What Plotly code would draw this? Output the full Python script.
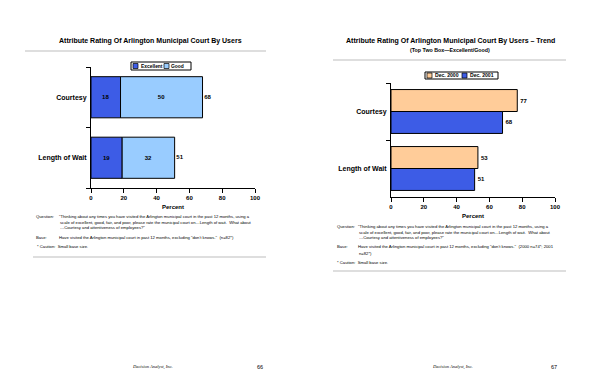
import plotly.graph_objects as go

W, H = 600, 388


def px(x):
    return x / W


def py(y):
    return 1 - y / H


# ---------------- data ----------------
attributes = ["Length of Wait", "Courtesy"]          # bottom-up order
excellent = [19, 18]
good = [32, 50]
top_two = [51, 68]

trend_attributes = ["Length of Wait", "Courtesy"]
dec_2000 = [53, 77]
dec_2001 = [51, 68]

x_ticks = [0, 20, 40, 60, 80, 100]

series_left = ["Excellent", "Good"]
series_right = ["Dec. 2000", "Dec. 2001"]

# ---------------- styles ----------------
FONT = "Liberation Sans, Arial, sans-serif"
SERIF = "Liberation Serif, Times New Roman, serif"
C_EXC = "#3d5ce6"
C_GOOD = "#99ccff"
C_2000 = "#ffcc99"
C_2001 = "#3d5ce6"
BAR_LINE = dict(color="black", width=1)
LBL = dict(family=FONT, size=6, color="black", weight="bold")

fig = go.Figure()

# Left chart: stacked bars
fig.add_trace(go.Bar(
    name=series_left[0], y=attributes, x=excellent, orientation="h",
    width=0.68, marker=dict(color=C_EXC, line=BAR_LINE),
    text=excellent, textposition="inside", insidetextanchor="middle",
    insidetextfont=LBL, xaxis="x", yaxis="y"))
fig.add_trace(go.Bar(
    name=series_left[1], y=attributes, x=good, base=excellent, orientation="h",
    width=0.68, marker=dict(color=C_GOOD, line=BAR_LINE),
    text=good, textposition="inside", insidetextanchor="middle",
    insidetextfont=LBL, xaxis="x", yaxis="y"))
fig.add_trace(go.Scatter(
    x=top_two, y=attributes, mode="text", text=[f" {v}" for v in top_two],
    textposition="middle right", textfont=LBL, showlegend=False,
    xaxis="x", yaxis="y", cliponaxis=False))

# Right chart: grouped bars
fig.add_trace(go.Bar(
    name=series_right[0], y=trend_attributes, x=dec_2000, orientation="h",
    width=0.385, offset=0, marker=dict(color=C_2000, line=BAR_LINE),
    text=dec_2000, textposition="outside", outsidetextfont=LBL,
    cliponaxis=False, xaxis="x2", yaxis="y2"))
fig.add_trace(go.Bar(
    name=series_right[1], y=trend_attributes, x=dec_2001, orientation="h",
    width=0.385, offset=-0.385, marker=dict(color=C_2001, line=BAR_LINE),
    text=dec_2001, textposition="outside", outsidetextfont=LBL,
    cliponaxis=False, xaxis="x2", yaxis="y2"))


def xaxis_style(x0, x1, anchor):
    return dict(domain=[px(x0), px(x1)], range=[0, 100], tickvals=x_ticks,
                ticks="outside", ticklen=4, tickcolor="black", showline=True,
                linecolor="black", linewidth=1, showgrid=False, zeroline=False,
                tickfont=dict(family=FONT, size=6, color="black", weight="bold"),
                title=dict(text="Percent", standoff=4,
                           font=dict(family=FONT, size=6, color="black", weight="bold")),
                anchor=anchor, automargin=False, fixedrange=True)


def yaxis_style(y_top, y_bot, anchor):
    return dict(domain=[py(y_bot), py(y_top)], range=[-0.5, 1.5], type="category",
                ticks="outside", tickson="boundaries", ticklen=4, tickcolor="black",
                showline=True, linecolor="black", linewidth=1, showgrid=False,
                zeroline=False, ticklabelstandoff=2,
                tickfont=dict(family=FONT, size=7, color="black", weight="bold"),
                anchor=anchor, automargin=False, fixedrange=True)


annotations = []
shapes = []


def text(x, y, s, size=4.2, bold=False, anchor="left", family=FONT, italic=False):
    annotations.append(dict(
        x=px(x), y=py(y), xref="paper", yref="paper", text=s, showarrow=False,
        xanchor=anchor, yanchor="middle",
        font=dict(family=family, size=size, color="black",
                  weight="bold" if bold else "normal",
                  style="italic" if italic else "normal")))


def hline(x0, x1, y, color="#bdbdbd"):
    shapes.append(dict(type="line", xref="paper", yref="paper",
                       x0=px(x0), x1=px(x1), y0=py(y), y1=py(y),
                       line=dict(color=color, width=1)))


def legend(x0, x1, y0, y1, items, size):
    shapes.append(dict(type="rect", xref="paper", yref="paper",
                       x0=px(x0), x1=px(x1), y0=py(y1), y1=py(y0),
                       line=dict(color="black", width=1), fillcolor="white"))
    ym = (y0 + y1) / 2
    for sx, name, color in items:
        shapes.append(dict(type="rect", xref="paper", yref="paper",
                           x0=px(sx), x1=px(sx + 5), y0=py(ym + 2.5), y1=py(ym - 2.5),
                           line=dict(color="black", width=0.7), fillcolor=color))
        text(sx + 5.5, ym, name, size=size, bold=True)


# Titles
text(150, 41, "Attribute Rating Of Arlington Municipal Court By Users", size=7, bold=True, anchor="center")
hline(25, 266, 51)
text(450, 41, "Attribute Rating Of Arlington Municipal Court By Users \u2013 Trend", size=7, bold=True, anchor="center")
text(450, 50, "(Top Two Box\u2014Excellent/Good)", size=5.3, bold=True, anchor="center")
hline(333, 566, 60)

# Legends
legend(131, 191, 62, 70, [(133, series_left[0], C_EXC), (164, series_left[1], C_GOOD)], 4.9)
legend(425, 498, 72, 79, [(427, series_right[0], C_2000), (462, series_right[1], C_2001)], 5.1)

# Notes left
q1 = "\"Thinking about any times you have visited the Arlington municipal court in the past 12 months, using a"
q2 = "scale of excellent, good, fair, and poor, please rate the municipal court on\u2026Length of wait.  What about"
q3 = "\u2026Courtesy and attentiveness of employees?\""
text(34, 216, "Question:")
text(57, 216, q1)
text(58, 222, q2)
text(58, 227, q3)
text(34, 237, "Base:")
text(57, 237, "Have visited the Arlington municipal court in past 12 months, excluding \"don't knows.\"  (n=82*)")
text(35, 247, "* Caution:  Small base size.")
hline(33, 266, 257)

# Notes right
text(335, 226, "Question:")
text(356, 226, q1)
text(357, 232, q2)
text(357, 237, q3)
text(335, 247, "Base:")
text(356, 247, "Have visited the Arlington municipal court in past 12 months, excluding \"don't knows.\"  (2000 n=74*; 2001")
text(357, 253, "n=82*)")
text(335, 262, "* Caution:  Small base size.")
hline(333, 566, 271)

# Footers
text(152, 367, "Decision Analyst, Inc.", size=4.5, anchor="center", family=SERIF, italic=True)
text(260, 367, "66", size=5.5, anchor="center")
text(452, 367, "Decision Analyst, Inc.", size=4.5, anchor="center", family=SERIF, italic=True)
text(554, 367, "67", size=5.5, anchor="center")

fig.update_layout(
    width=W, height=388, margin=dict(l=0, r=0, t=0, b=0),
    paper_bgcolor="white", plot_bgcolor="white", showlegend=False,
    barmode="overlay",
    font=dict(family=FONT, color="black"),
    xaxis=xaxis_style(91, 255, "y"),
    yaxis=yaxis_style(67, 188, "x"),
    xaxis2=xaxis_style(391, 555, "y2"),
    yaxis2=yaxis_style(83, 197, "x2"),
    annotations=annotations,
    shapes=shapes,
)

fig.write_html("out.html", config={"displayModeBar": False},
               post_script="document.body.style.margin='0';document.body.style.overflow='hidden';")
